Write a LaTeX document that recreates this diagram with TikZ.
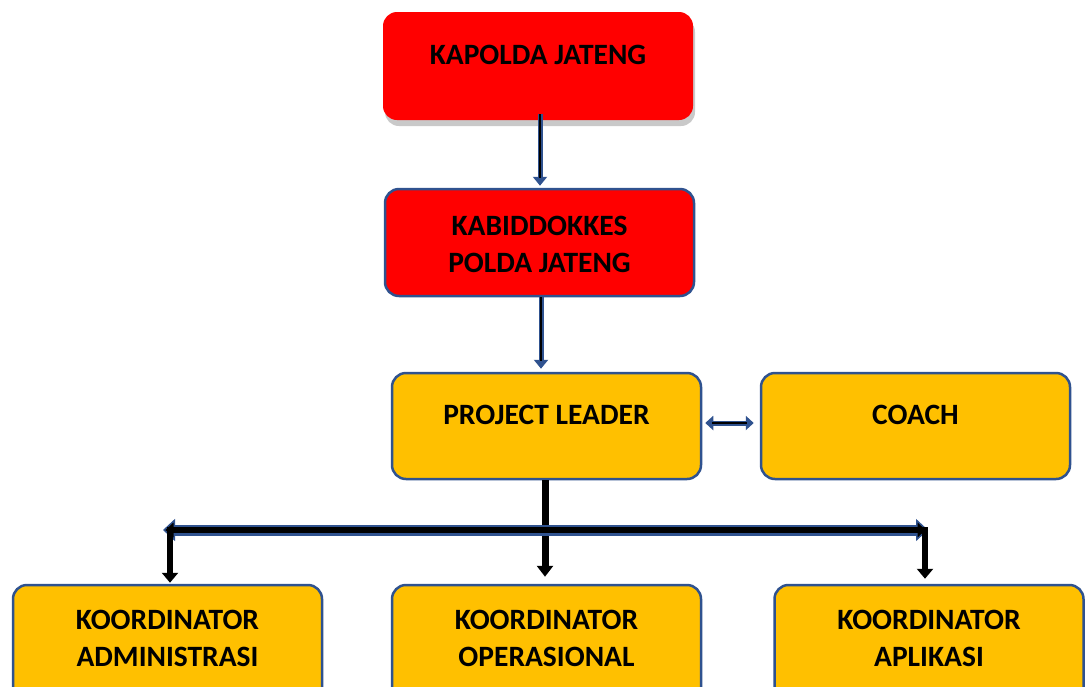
\documentclass[tikz,border=0pt]{standalone}
\usepackage{fontspec}
\setmainfont{Carlito}
\usetikzlibrary{arrows.meta,shadows}
\definecolor{orgC}{HTML}{FFC000}
\definecolor{bordB}{HTML}{2F528F}
\tikzset{
  redbox/.style={fill=red, rounded corners=14pt, minimum width=310pt, minimum height=108pt, inner sep=0pt},
  orgbox/.style={fill=orgC, draw=bordB, line width=2.5pt, rounded corners=14pt, minimum width=309pt, minimum height=106pt, inner sep=0pt},
  lbl/.style={font=\fontsize{29.5}{37}\selectfont\bfseries, align=center, inner sep=0pt},
  blueline/.style={draw=bordB, line width=5pt},
  coreline/.style={draw=black, line width=2pt},
  bigline/.style={draw=black, line width=7pt},
}
\begin{document}
\begin{tikzpicture}[x=1pt,y=-1pt]
\useasboundingbox (0,0) rectangle (1087,686);
\clip (0,0) rectangle (1087,686);
% boxes
\node[redbox, drop shadow={shadow xshift=2pt, shadow yshift=-6pt, opacity=0.3, fill=black!70}] (kap) at (538,66) {};
\node[redbox, draw=bordB, line width=2.5pt, minimum width=309pt, minimum height=107pt] (kab) at (539.5,242.5) {};
\node[orgbox] (pl) at (546.5,426) {};
\node[orgbox] (co) at (915.5,426) {};
\node[orgbox, minimum height=124pt] (adm) at (167.5,647) {};
\node[orgbox, minimum height=124pt] (op) at (546.5,647) {};
\node[orgbox, minimum height=124pt] (apl) at (929,647) {};
% labels
\node[lbl] (tkap) at (538,55) {KAPOLDA JATENG};
\node[lbl] (tkab) at (539.5,244.5) {KABIDDOKKES\\POLDA JATENG};
\node[lbl] (tpl) at (546.5,415) {PROJECT LEADER};
\node[lbl] (tco) at (915.5,415) {COACH};
\node[lbl] (tadm) at (167.5,638) {KOORDINATOR\\ADMINISTRASI};
\node[lbl] (top) at (546.5,638) {KOORDINATOR\\OPERASIONAL};
\node[lbl] (tapl) at (929,638) {KOORDINATOR\\APLIKASI};
% arrows top
\coordinate (a1s) at (540,114);
\coordinate (a2s) at (541,297);
\draw[blueline, -{Triangle[length=9pt,width=14pt]}, shorten >=2pt] (a1s) -- (a1s |- kab.north);
\draw[coreline, shorten >=10pt] (a1s) -- (a1s |- kab.north);
\draw[blueline, -{Triangle[length=9pt,width=14pt]}, shorten >=3pt] (a2s) -- (a2s |- pl.north);
\draw[coreline, shorten >=11pt] (a2s) -- (a2s |- pl.north);
% double arrow
\coordinate (dl) at (pl.east |- 0,423);
\coordinate (dr) at (co.west |- 0,423);
\draw[blueline, {Triangle[length=8pt,width=14pt]}-{Triangle[length=8pt,width=14pt]}, shorten <=3pt, shorten >=6pt] (dl) -- (dr);
\draw[coreline, shorten <=10pt, shorten >=13pt] (dl) -- (dr);
% tree
\coordinate (pls) at (545,480);
\draw[bigline, -{Triangle[length=11pt,width=16pt]}, shorten >=7pt] (pls) -- (pls |- op.north);
\coordinate (bl) at (163,530);
\coordinate (br) at (928,530);
\draw[draw=bordB, line width=11pt, {Triangle[length=12pt,width=22pt,fill=black,line width=1.5pt]}-{Triangle[length=12pt,width=22pt,fill=black,line width=1.5pt]}] (bl) -- (br);
\draw[draw=black, line width=6pt, shorten <=10pt, shorten >=10pt] (bl) -- (br);
\coordinate (lj) at (170,527);
\coordinate (rj) at (925,527);
\draw[bigline, line width=6pt, -{Triangle[length=10pt,width=16pt]}, shorten >=1pt] (lj) -- (lj |- adm.north);
\draw[bigline, line width=6pt, -{Triangle[length=10pt,width=16pt]}, shorten >=5pt] (rj) -- (rj |- apl.north);
\end{tikzpicture}
\end{document}
